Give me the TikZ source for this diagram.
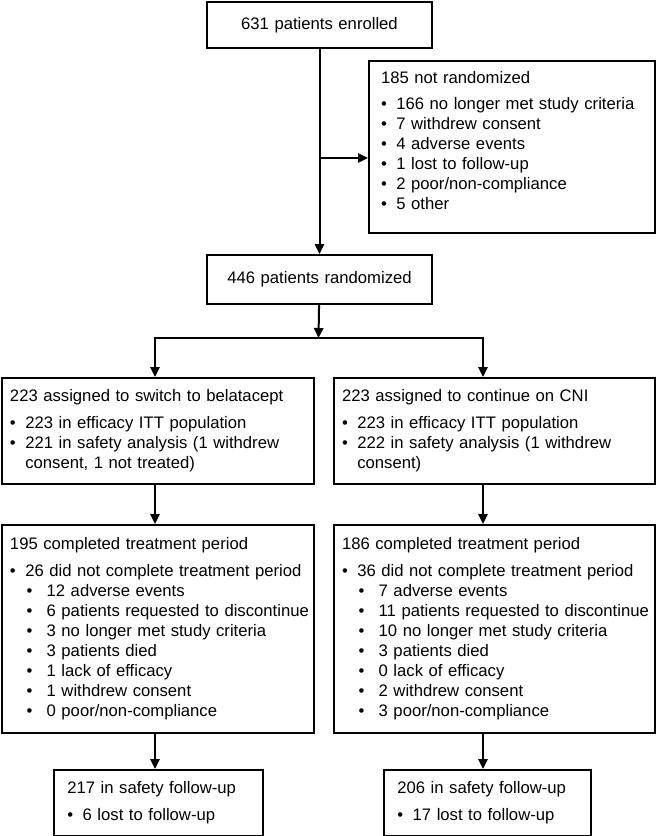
\documentclass[tikz,border=0pt]{standalone}
\usepackage{fontspec}
\setmainfont{Liberation Sans}
\usetikzlibrary{arrows.meta}
\newcommand{\itm}[1]{\mbox{\makebox[11.5pt][l]{\textbullet}#1}}
\newcommand{\subitm}[1]{\mbox{\hspace*{12.5pt}\makebox[15pt][l]{\textbullet}#1}}
\newcommand{\cont}[1]{\mbox{\hspace*{11.5pt}#1}}
\begin{document}
\begin{tikzpicture}[x=0.75pt,y=-0.75pt,
    box/.style={draw,line width=1.5pt,anchor=north west,align=left,inner ysep=0pt,
        font=\fontsize{12.5}{15}\selectfont},
    arr/.style={line width=1.5pt,-{Triangle[length=7.5pt,width=7pt]}},
    arrboth/.style={line width=1.5pt,{Triangle[length=7.5pt,width=7pt]}-{Triangle[length=7.5pt,width=7pt]}}]
    \useasboundingbox (0,0) rectangle (656,836);
    % top of the chart
    \node [box,align=center,inner xsep=0pt,text width=168.75pt,minimum height=34.5pt] (enrolled) at (206,1) {631 patients enrolled};
    \node [box,inner xsep=9pt,text width=196.5pt,minimum height=129pt] (notrand) at (368,60)
        {185 not randomized\\[5pt]
         \itm{166 no longer met study criteria}\\
         \itm{7 withdrew consent}\\
         \itm{4 adverse events}\\
         \itm{1 lost to follow-up}\\
         \itm{2 poor/non-compliance}\\
         \itm{5 other}\rule[-10pt]{0pt}{0pt}};
    \node [box,align=center,inner xsep=0pt,text width=168.75pt,minimum height=36.75pt] (randomized) at (206,254) {446 patients randomized};
    % two arms
    \node [box,inner xsep=6pt,text width=222pt,minimum height=79.5pt] (switch) at (1,377)
        {223 assigned to switch to belatacept\\[5pt]
         \itm{223 in efficacy ITT population}\\
         \itm{221 in safety analysis (1 withdrew}\\
         \cont{consent, 1 not treated)}};
    \node [box,inner xsep=6pt,text width=228.75pt,minimum height=79.5pt] (stay) at (333,377)
        {223 assigned to continue on CNI\\[5pt]
         \itm{223 in efficacy ITT population}\\
         \itm{222 in safety analysis (1 withdrew}\\
         \cont{consent)}};
    \node [box,inner xsep=6pt,text width=222pt,minimum height=156pt] (doneA) at (1,524)
        {195 completed treatment period\\[5pt]
         \itm{26 did not complete treatment period}\\
         \subitm{12 adverse events}\\
         \subitm{6 patients requested to discontinue}\\
         \subitm{3 no longer met study criteria}\\
         \subitm{3 patients died}\\
         \subitm{1 lack of efficacy}\\
         \subitm{1 withdrew consent}\\
         \subitm{0 poor/non-compliance}};
    \node [box,inner xsep=6pt,text width=228.75pt,minimum height=156pt] (doneB) at (333,524)
        {186 completed treatment period\\[5pt]
         \itm{36 did not complete treatment period}\\
         \subitm{7 adverse events}\\
         \subitm{11 patients requested to discontinue}\\
         \subitm{10 no longer met study criteria}\\
         \subitm{3 patients died}\\
         \subitm{0 lack of efficacy}\\
         \subitm{2 withdrew consent}\\
         \subitm{3 poor/non-compliance}};
    \node [box,inner xsep=10pt,text width=136.75pt,minimum height=49.5pt] (fupA) at (53,769)
        {217 in safety follow-up\\[5pt]
         \itm{6 lost to follow-up}};
    \node [box,inner xsep=10pt,text width=135.25pt,minimum height=49.5pt] (fupB) at (383,769)
        {206 in safety follow-up\\[5pt]
         \itm{17 lost to follow-up}};
    % connectors
    \coordinate (split) at (318.5,158);
    \coordinate (bar) at (318.5,338);
    \coordinate (lft) at (155,338);
    \coordinate (rgt) at (483,338);
    \draw[arr] (enrolled) -- (randomized);
    \draw[arr] (split) -- (split -| notrand.west);
    \draw[arr] (randomized) -- (bar);
    \draw[arrboth] (lft |- switch.north) -- (lft) -- (rgt) -- (rgt |- stay.north);
    \draw[arr] (lft |- switch.south) -- (lft |- doneA.north);
    \draw[arr] (rgt |- stay.south) -- (rgt |- doneB.north);
    \draw[arr] (lft |- doneA.south) -- (lft |- fupA.north);
    \draw[arr] (rgt |- doneB.south) -- (rgt |- fupB.north);
\end{tikzpicture}
\end{document}
